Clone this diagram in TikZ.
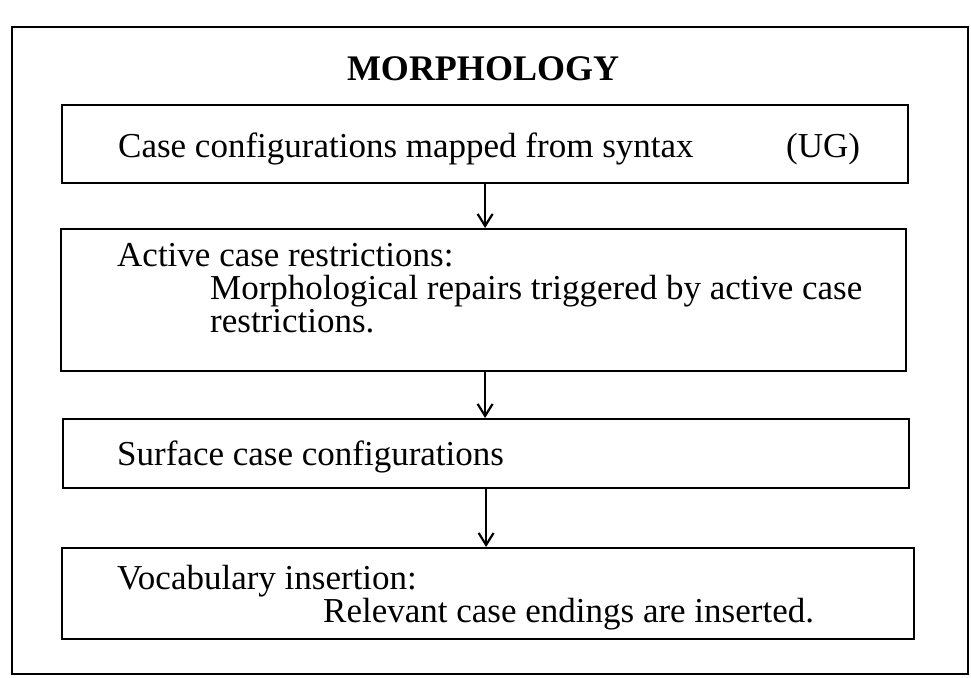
\documentclass[tikz,border=0pt]{standalone}
\usepackage{fontspec}
\setmainfont{Liberation Serif}
\usetikzlibrary{arrows.meta}
\begin{document}
\begin{tikzpicture}[x=1pt,y=-1pt,
  frm/.style={draw, line width=2.2pt, rectangle, inner sep=0pt, anchor=north west},
  txt/.style={anchor=base west, inner sep=0pt, font=\fontsize{35}{36}\selectfont},
  arr/.style={line width=2.4pt, -{Straight Barb[length=12pt,width=15pt,line width=2.2pt]}}]
\useasboundingbox (0,0) rectangle (971,677);
\node[frm, minimum width=956pt, minimum height=647pt] (frame) at (11,26) {};
\node[anchor=base, inner sep=0pt, font=\fontsize{36}{40}\selectfont\bfseries] (title) at (483,80) {MORPHOLOGY};
% boxes
\node[frm, minimum width=846pt, minimum height=78pt] (b1) at (61,104) {};
\node[frm, minimum width=845pt, minimum height=142pt] (b2) at (60,228) {};
\node[frm, minimum width=846pt, minimum height=69pt] (b3) at (62,418) {};
\node[frm, minimum width=852pt, minimum height=91pt] (b4) at (61,547) {};
% texts
\node[txt] (t1) at (118,157) {Case configurations mapped from syntax};
\node[txt] (ug) at (786,157) {(UG)};
\node[txt] (t2a) at (117,266) {Active case restrictions:};
\node[txt] (t2b) at (210,299) {Morphological repairs triggered by active case};
\node[txt] (t2c) at (210,332) {restrictions.};
\node[txt] (t3) at (117,465) {Surface case configurations};
\node[txt] (t4a) at (117,589) {Vocabulary insertion:};
\node[txt] (t4b) at (323,622) {Relevant case endings are inserted.};
% arrows
\draw[arr] (b1.south) -- (b1.south |- b2.north);
\draw[arr] (b2.south -| b1.south) -- (b1.south |- b3.north);
\draw[arr] (b3.south) -- (b3.south |- b4.north);
\end{tikzpicture}
\end{document}
